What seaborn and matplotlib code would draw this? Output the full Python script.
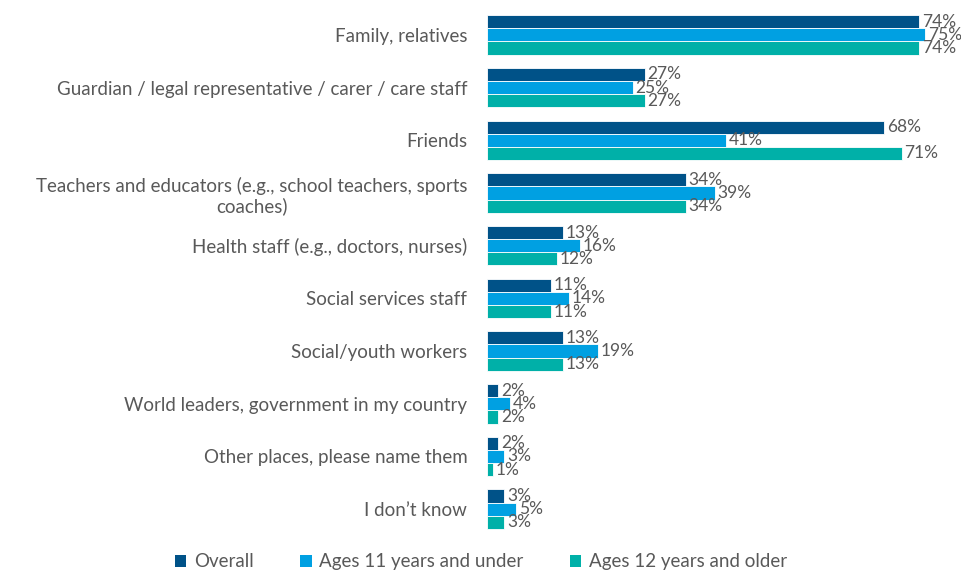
import pandas as pd
import seaborn as sns
import matplotlib.pyplot as plt
from matplotlib.patches import Patch

categories = [
    'Family, relatives',
    'Guardian / legal representative / carer / care staff',
    'Friends',
    'Teachers and educators (e.g., school teachers, sports\ncoaches)',
    'Health staff (e.g., doctors, nurses)',
    'Social services staff',
    'Social/youth workers',
    'World leaders, government in my country',
    'Other places, please name them',
    'I don\u2019t know',
]
series = ['Overall', 'Ages 11 years and under', 'Ages 12 years and older']
overall = [74, 27, 68, 34, 13, 11, 13, 2, 2, 3]
under_11 = [75, 25, 41, 39, 16, 14, 19, 4, 3, 5]
over_12 = [74, 27, 71, 34, 12, 11, 13, 2, 1, 3]
colors = ['#005288', '#00A0E2', '#00B0A8']

rows = []
for name, vals in zip(series, [overall, under_11, over_12]):
    for cat, v in zip(categories, vals):
        rows.append({'category': cat, 'group': name, 'value': v})
df = pd.DataFrame(rows)

sns.set_style('white')
plt.rcParams['font.family'] = ['Lato', 'DejaVu Sans']
text_color = '#595959'

fig = plt.figure(figsize=(9.62, 5.70), dpi=100)
ax = fig.add_axes([0.506, 0.0605, 0.494, 0.9245])

sns.barplot(data=df, y='category', x='value', hue='group', hue_order=series,
            order=categories, palette=colors, saturation=1, orient='h', width=0.75,
            edgecolor='white', linewidth=0.6, ax=ax, legend=False)

for cont in ax.containers:
    ax.bar_label(cont, labels=[f'{int(v)}%' for v in cont.datavalues],
                 padding=2, fontsize=12.5, color=text_color)

ax.set_xlim(0, 81.3)
ax.set_ylim(len(categories) - 0.5, -0.5)
ax.set_xlabel('')
ax.set_ylabel('')
ax.set_xticks([])
ax.tick_params(axis='y', length=0, pad=14, labelsize=13.5, labelcolor=text_color)
for lbl in ax.get_yticklabels():
    lbl.set_multialignment('center')
for s in ax.spines.values():
    s.set_visible(False)

handles = [Patch(facecolor=c, edgecolor='none') for c in colors]
fig.legend(handles, series, loc='lower center', bbox_to_anchor=(0.5, -0.03),
           ncol=3, frameon=False, fontsize=13.5, labelcolor=text_color,
           handlelength=0.6, handleheight=0.6, handletextpad=0.4, columnspacing=2.5)

fig.savefig('out.png', dpi=100)
